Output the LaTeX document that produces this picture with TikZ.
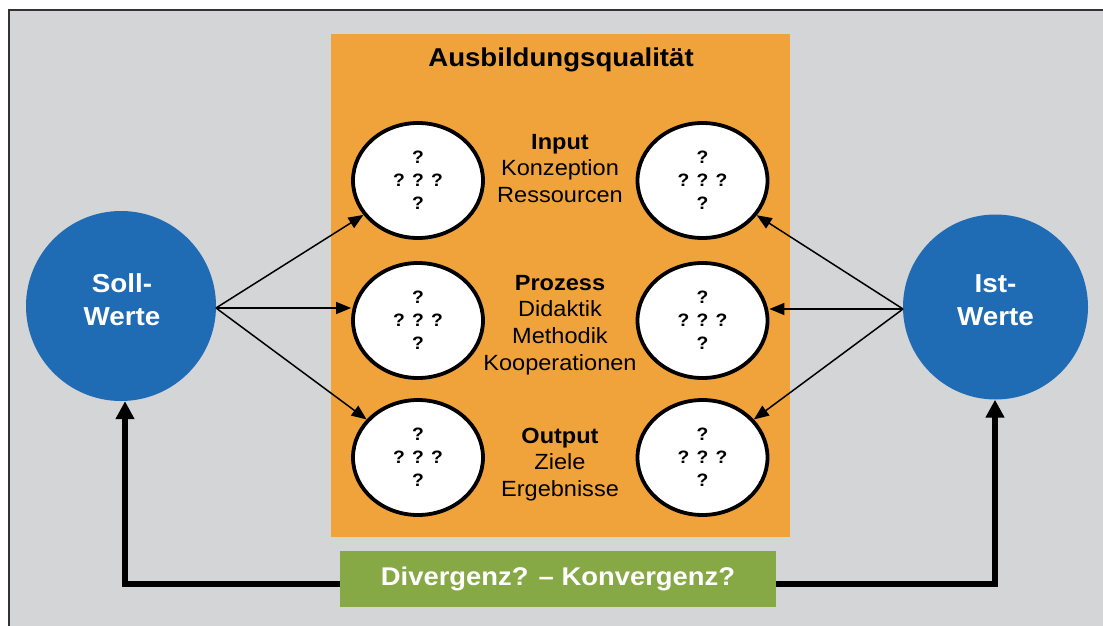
\documentclass[tikz,border=0pt]{standalone}
\usepackage{fontspec}
\setmainfont{Liberation Sans}[FakeStretch=1.07]
\usetikzlibrary{arrows.meta,shapes.geometric}
\definecolor{bggray}{HTML}{D4D5D7}
\definecolor{qorange}{HTML}{F0A33A}
\definecolor{qblue}{HTML}{1F6CB5}
\definecolor{qgreen}{HTML}{86A845}
\definecolor{framegray}{HTML}{333333}
\tikzset{
  x=1pt,y=-1pt,
  qell/.style={ellipse,draw=black,line width=3.8pt,fill=white,minimum width=130pt,minimum height=115pt,inner sep=0pt,align=center,font=\bfseries\fontsize{18}{23}\selectfont},
  wcircle/.style={circle,fill=qblue,inner sep=0pt},
  wtext/.style={text=white,align=center,inner sep=0pt,font=\bfseries\fontsize{26}{33}\selectfont},
  lbl/.style={align=center,font=\fontsize{22}{26.6}\selectfont,inner sep=0pt},
  thinarrow/.style={line width=1.5pt,-{Triangle[length=15pt,width=12pt]}},
  thickarrow/.style={line width=5.5pt,-{Triangle[length=18pt,width=18pt]}},
}
\begin{document}
\begin{tikzpicture}
\useasboundingbox (0,0) rectangle (1103,626);
\clip (0,0) rectangle (1103,626);
\fill[white] (0,0) rectangle (1103,626);
\draw[framegray,line width=2pt,fill=bggray] (9,10) rectangle (1120,650);
% orange panel
\fill[qorange] (331,34) rectangle (790,537);
\node[font=\bfseries\fontsize{25.8}{30}\selectfont,inner sep=0pt] (title) at (561,60) {Ausbildungsqualität};
% blue circles
\node[wcircle,minimum size=190pt] (soll) at (121,306) {};
\node[wcircle,minimum size=185pt] (ist) at (995.5,307) {};
\node[wtext] (solltxt) at (122,300) {Soll-\\Werte};
\node[wtext] (isttxt) at (995.5,300) {Ist-\\Werte};
\coordinate (sollpt) at (216,308);
\coordinate (istpt) at (903,309);
% ellipses
\node[qell] (l1) at (418,180.5) {?\\? ? ?\\?};
\node[qell] (l2) at (418,320.5) {?\\? ? ?\\?};
\node[qell] (l3) at (418,457.5) {?\\? ? ?\\?};
\node[qell] (r1) at (702.5,180.5) {?\\? ? ?\\?};
\node[qell] (r2) at (702.5,320.5) {?\\? ? ?\\?};
\node[qell] (r3) at (702.5,457.5) {?\\? ? ?\\?};
% labels
\node[lbl] (in) at (560,168.5) {\textbf{Input}\\Konzeption\\Ressourcen};
\node[lbl] (pr) at (560,325) {\textbf{Prozess}\\Didaktik\\Methodik\\Kooperationen};
\node[lbl] (out) at (560,464.5) {\textbf{Output}\\Ziele\\Ergebnisse};
% thin arrows
\draw[thinarrow] (sollpt) -- (l1);
\draw[thinarrow] (sollpt) -- (sollpt -| l2.west);
\draw[thinarrow] (sollpt) -- (l3);
\draw[thinarrow] (istpt) -- (r1);
\draw[thinarrow] (istpt) -- (istpt -| r2.east);
\draw[thinarrow] (istpt) -- (r3);
% green box
\node[fill=qgreen,minimum width=436pt,minimum height=56pt,inner sep=0pt,text=white,font=\bfseries\fontsize{25.6}{30}\selectfont] (div) at (558,579) {Divergenz? -- Konvergenz?};
\coordinate (cl) at (125,584);
\coordinate (cr) at (995,584);
\draw[thickarrow] (div.west |- cl) -- (cl) -- (cl |- soll.south);
\draw[thickarrow] (div.east |- cr) -- (cr) -- (cr |- ist.south);
\end{tikzpicture}
\end{document}
